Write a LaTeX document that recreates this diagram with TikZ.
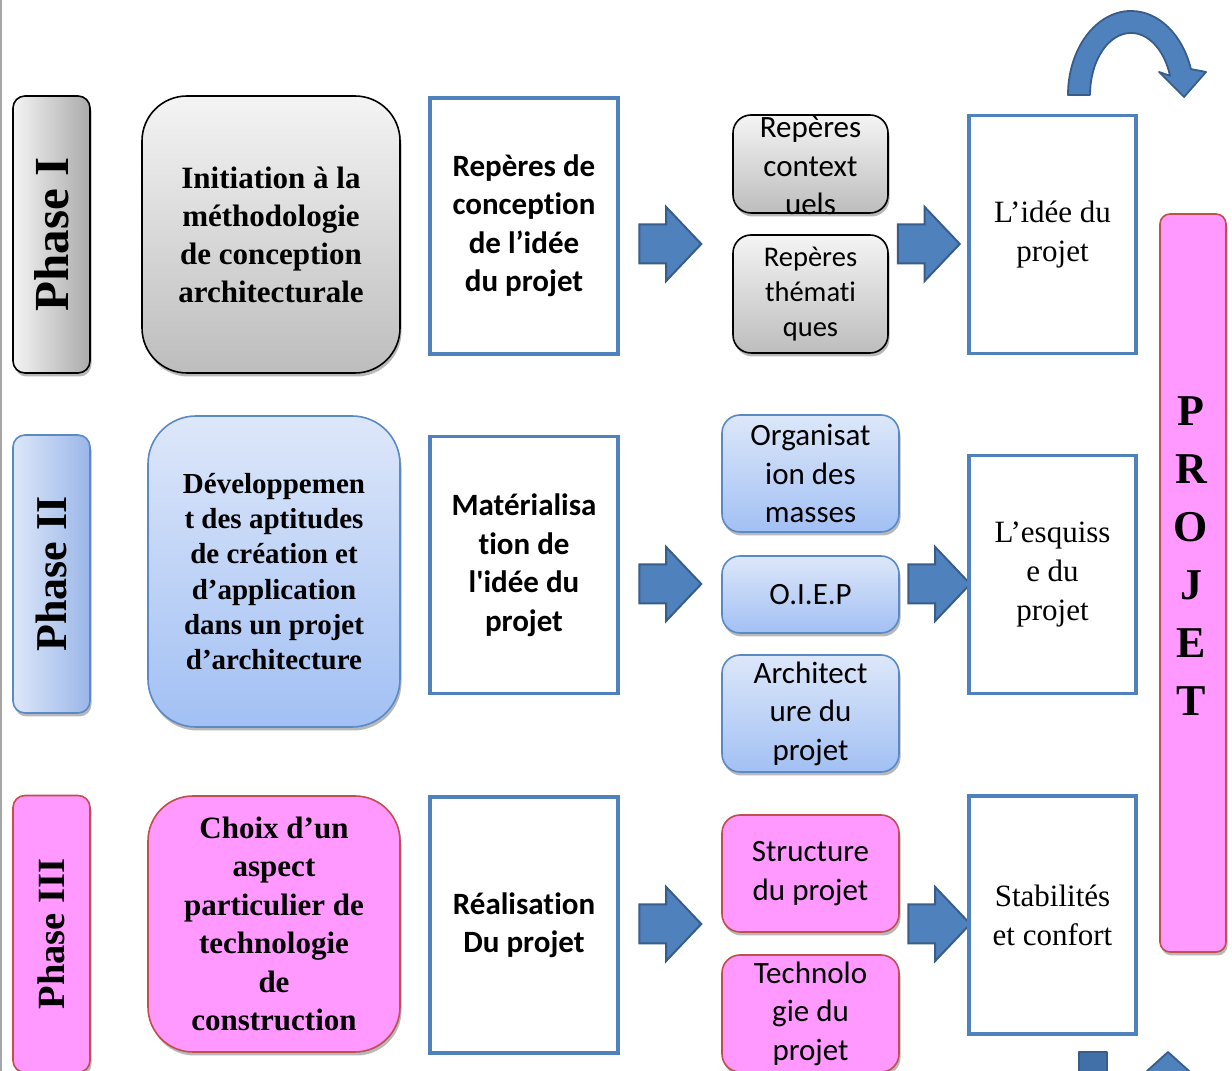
\documentclass[tikz,border=0pt]{standalone}
\usepackage{fontspec}
\setmainfont{Liberation Serif}
\newfontfamily\calib[Ligatures={NoCommon}]{Carlito}
\usetikzlibrary{shapes.arrows,shadows}
\definecolor{bord}{HTML}{4F81BD}
\definecolor{arrfill}{HTML}{4F81BD}
\definecolor{arrdark}{HTML}{416FA8}
\definecolor{arrbord}{HTML}{385D8A}
\definecolor{gtop}{HTML}{F4F4F4}
\definecolor{gbot}{HTML}{BDBDBD}
\definecolor{btop}{HTML}{DDE7F9}
\definecolor{bbot}{HTML}{A2C0F4}
\definecolor{bbord}{HTML}{5A8AC6}
\definecolor{pinkf}{HTML}{FF99FF}
\definecolor{pbord}{HTML}{C0504D}
\tikzset{
  shd/.style={drop shadow={shadow xshift=1.5pt,shadow yshift=-3.5pt,opacity=0.28,fill=black}},
  box/.style={inner sep=2pt, align=center},
  graybox/.style={box, draw=black, line width=1.6pt, top color=gtop, bottom color=gbot, shd},
  grayside/.style={box, draw=black, line width=1.6pt, left color=gtop, right color=gbot!90!black, shd},
  bluebox/.style={box, draw=bbord, line width=1.6pt, top color=btop, bottom color=bbot, shd},
  blueside/.style={box, draw=bbord, line width=1.6pt, left color=btop, right color=bbot!95!black, shd},
  pinkbox/.style={box, draw=pbord, line width=1.6pt, fill=pinkf, shd},
  rectbox/.style={box, draw=bord, line width=3.5pt, fill=white},
  blockarr/.style={single arrow, draw=arrbord, fill=arrfill, line width=2pt,
    inner sep=0pt, text height=37pt, text depth=0pt, minimum height=62pt,
    single arrow head extend=17.5pt, single arrow tip angle=93},
  serifb/.style={font=\bfseries\fontsize{31}{38}\selectfont},
  sansb/.style={font=\calib\bfseries\fontsize{31}{38.5}\selectfont},
  sansr/.style={font=\calib\fontsize{31}{38.5}\selectfont},
  serifr/.style={font=\fontsize{31}{39}\selectfont},
}
\begin{document}
\begin{tikzpicture}[x=1pt,y=1pt]
\clip (0,0) rectangle (1232,1071);
\fill[white] (0,0) rectangle (1232,1071);
\draw[black!35, line width=2pt] (1,0) -- (1,1071);

% ---------- Row 1 ----------
\node[grayside, rounded corners=12pt, minimum width=77pt, minimum height=277pt] (ph1) at (51.5,836.5) {};
\node[rotate=90, font=\bfseries\fontsize{49}{49}\selectfont] (ph1t) at (ph1) {Phase I};
\node[graybox, rounded corners=45pt, minimum width=258pt, minimum height=277pt, serifb] (big1) at (271,836.5)
  {Initiation à la\\méthodologie\\de conception\\architecturale};
\node[rectbox, minimum width=188pt, minimum height=256pt, sansb] (r1) at (524,845)
  {Repères de\\conception\\de l’idée\\du projet};
\node[blockarr] (a1) at (661,827) {};
\node[graybox, rounded corners=18pt, minimum width=155pt, minimum height=98pt] (g1) at (810.5,907) {};
\node[align=center, sansr] (g1t) at (810.5,905) {Repères\\context\\uels};
\node[graybox, rounded corners=18pt, minimum width=155pt, minimum height=118pt, font=\calib\fontsize{28.5}{35}\selectfont] (g2) at (810.5,777)
  {Repères\\thémati\\ques};
\node[blockarr] (a2) at (919.5,827) {};
\node[rectbox, minimum width=167pt, minimum height=238pt, serifr] (c1) at (1052.5,836.5)
  {L’idée du\\projet};

% ---------- PROJET ----------
\node[pinkbox, rounded corners=10pt, minimum width=66pt, minimum height=738pt] (pj) at (1193,488) {};
\node[align=center, font=\bfseries\fontsize{44}{58}\selectfont] (pjt) at (1191,515) {P\\R\\O\\J\\E\\T};

% ---------- Row 2 ----------
\node[blueside, rounded corners=12pt, minimum width=77pt, minimum height=278pt] (ph2) at (51.5,497) {};
\node[rotate=90, font=\bfseries\fontsize{44}{44}\selectfont] (ph2t) at (ph2) {Phase II};
\node[bluebox, rounded corners=48pt, minimum width=252pt, minimum height=311pt, font=\bfseries\fontsize{29}{35.3}\selectfont] (big2) at (274,499.5)
  {Développemen\\t des aptitudes\\de création et\\d’application\\dans un projet\\d’architecture};
\node[rectbox, minimum width=188pt, minimum height=257pt, sansb] (r2) at (524,506)
  {Matérialisa\\tion de\\l\textquotesingle idée du\\projet};
\node[blockarr] (a3) at (661,487) {};
\node[bluebox, rounded corners=18pt, minimum width=177pt, minimum height=117pt, sansr] (b1) at (810.5,597.5)
  {Organisat\\ion des\\masses};
\node[bluebox, rounded corners=18pt, minimum width=177pt, minimum height=77pt, sansr] (b2) at (810.5,476.5)
  {O.I.E.P};
\node[bluebox, rounded corners=18pt, minimum width=177pt, minimum height=117pt, sansr] (b3) at (810.5,357.5)
  {Architect\\ure du\\projet};
\node[blockarr] (a4) at (930,487) {};
\node[rectbox, minimum width=167pt, minimum height=238pt, serifr] (c2) at (1052.5,496.5)
  {L’esquiss\\e du\\projet};

% ---------- Row 3 ----------
\node[pinkbox, rounded corners=12pt, minimum width=77pt, minimum height=277pt] (ph3) at (51.5,137) {};
\node[rotate=90, font=\bfseries\fontsize{38.5}{38.5}\selectfont] (ph3t) at (ph3) {Phase III};
\node[pinkbox, rounded corners=45pt, minimum width=252pt, minimum height=256pt, font=\bfseries\fontsize{31}{38.4}\selectfont] (big3) at (274,147)
  {Choix d’un\\aspect\\particulier de\\technologie\\de\\construction};
\node[rectbox, minimum width=188pt, minimum height=256pt, sansb] (r3) at (524,146)
  {Réalisation\\Du projet};
\node[blockarr] (a5) at (661,147) {};
\node[pinkbox, rounded corners=18pt, minimum width=177pt, minimum height=117pt, sansr] (p1) at (810.5,197.5)
  {Structure\\du projet};
\node[pinkbox, rounded corners=18pt, minimum width=177pt, minimum height=117pt, sansr] (p2) at (810.5,57.5)
  {Technolo\\gie du\\projet};
\node[blockarr] (a6) at (930,147) {};
\node[rectbox, minimum width=167pt, minimum height=238pt, serifr] (c3) at (1052.5,156)
  {Stabilités\\et confort};

% ---------- curved arrows ----------
\filldraw[fill=arrfill, draw=arrbord, line width=1.8pt, line join=round]
  (1068,976) arc[start angle=180, end angle=18, x radius=63, y radius=84]
  -- (1206,999) -- (1184,974) -- (1159,999) -- (1170,995.2)
  arc[start angle=18, end angle=180, x radius=41, y radius=62] -- cycle;
\filldraw[fill=arrdark, draw=arrbord, line width=1.8pt, line join=round]
  (1079,-5) rectangle (1107,19);
\filldraw[fill=arrfill, draw=arrbord, line width=1.8pt, line join=round]
  (1168,19) -- (1200,-10) -- (1136,-10) -- cycle;
\end{tikzpicture}
\end{document}
